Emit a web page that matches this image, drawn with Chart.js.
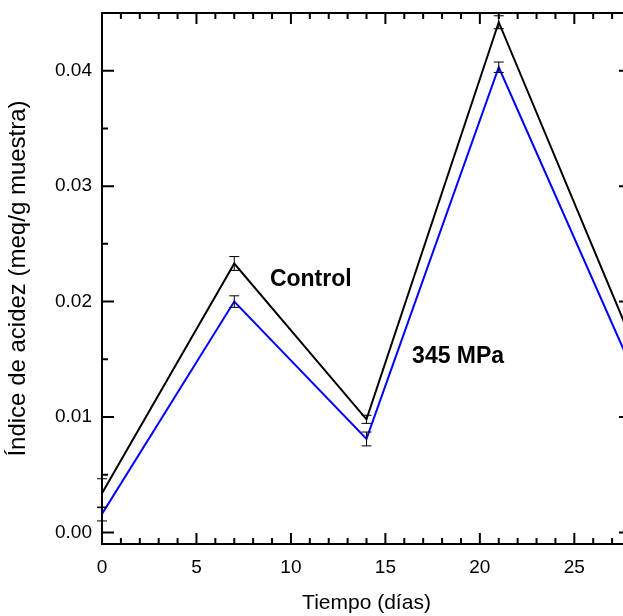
<!DOCTYPE html>
<html>
<head>
<meta charset="utf-8">
<script src="https://cdn.jsdelivr.net/npm/chart.js@4.4.1/dist/chart.umd.min.js"></script>
<style>
html, body { margin: 0; padding: 0; overflow: hidden; background: #fff; }
</style>
</head>
<body>
<canvas id="acidChart" width="640" height="616"></canvas>
<script>
const days = [0, 7, 14, 21, 28];
const controlValues = [0.0034, 0.0233, 0.0098, 0.0442, 0.0168];
const controlErrors = [0.00125, 0.0006, 0.00035, 0.00056, 0.0006];
const mpaValues = [0.0016, 0.0200, 0.0081, 0.0403, 0.0144];
const mpaErrors = [0.0006, 0.0005, 0.0006, 0.00045, 0.0005];
const xTicks = [0, 5, 10, 15, 20, 25];
const yTicks = [0.00, 0.01, 0.02, 0.03, 0.04];

const FONT = "'Liberation Sans', Arial, sans-serif";

// Error bars with small caps
const errorBars = {
    id: 'errorBars',
    afterDatasetsDraw(chart) {
        const { ctx, scales: { x, y } } = chart;
        ctx.save();
        ctx.strokeStyle = '#000';
        ctx.lineWidth = 1;
        chart.data.datasets.forEach(ds => {
            ds.data.forEach((p, i) => {
                const px = x.getPixelForValue(p.x);
                const top = y.getPixelForValue(p.y + ds.errors[i]);
                const bot = y.getPixelForValue(p.y - ds.errors[i]);
                ctx.beginPath();
                ctx.moveTo(px, top); ctx.lineTo(px, bot);
                ctx.moveTo(px - 5, top); ctx.lineTo(px + 5, top);
                ctx.moveTo(px - 5, bot); ctx.lineTo(px + 5, bot);
                ctx.stroke();
            });
        });
        ctx.restore();
    }
};

// Box frame with inward ticks on all four sides
const frameTicks = {
    id: 'frameTicks',
    afterDraw(chart) {
        const { ctx, chartArea: a, scales: { x, y } } = chart;
        ctx.save();
        ctx.strokeStyle = '#000';
        ctx.lineWidth = 2;
        ctx.beginPath();
        ctx.moveTo(a.left, a.top); ctx.lineTo(a.right, a.top);
        ctx.moveTo(a.right, a.top); ctx.lineTo(a.right, a.bottom);
        for (let d = 1; d < 28; d++) {
            const px = x.getPixelForValue(d);
            const len = d % 5 === 0 ? 11 : 6;
            ctx.moveTo(px, a.bottom); ctx.lineTo(px, a.bottom - len);
            ctx.moveTo(px, a.top); ctx.lineTo(px, a.top + len);
        }
        for (let i = 0; i <= 8; i++) {
            const py = y.getPixelForValue(i * 0.005);
            const len = i % 2 === 0 ? 12 : 6;
            ctx.moveTo(a.left, py); ctx.lineTo(a.left + len, py);
            ctx.moveTo(a.right, py); ctx.lineTo(a.right - len, py);
        }
        ctx.stroke();

        // series labels
        ctx.fillStyle = '#000';
        ctx.font = 'bold 23px ' + FONT;
        ctx.textAlign = 'center';
        ctx.textBaseline = 'middle';
        ctx.fillText('Control', x.getPixelForValue(11.05), y.getPixelForValue(0.0219));
        ctx.fillText('345 MPa', x.getPixelForValue(18.85), y.getPixelForValue(0.0152));
        ctx.restore();
    }
};

const ctx = document.getElementById('acidChart').getContext('2d');
new Chart(ctx, {
    type: 'line',
    data: {
        datasets: [
            {
                label: 'Control',
                data: days.map((d, i) => ({ x: d, y: controlValues[i] })),
                errors: controlErrors,
                borderColor: '#000000',
                borderWidth: 2,
                pointRadius: 0,
                tension: 0
            },
            {
                label: '345 MPa',
                data: days.map((d, i) => ({ x: d, y: mpaValues[i] })),
                errors: mpaErrors,
                borderColor: '#0000ff',
                borderWidth: 2,
                pointRadius: 0,
                tension: 0
            }
        ]
    },
    options: {
        responsive: false,
        animation: false,
        layout: { padding: { top: 13, right: 9, left: 0, bottom: 0 } },
        plugins: {
            legend: { display: false },
            tooltip: { enabled: false }
        },
        scales: {
            x: {
                type: 'linear',
                min: 0,
                max: 28,
                grid: { display: false, drawTicks: false },
                border: { display: true, color: '#000', width: 2 },
                afterBuildTicks: s => { s.ticks = xTicks.map(v => ({ value: v })); },
                afterFit: s => { s.height = 72; s.paddingLeft = 0; s.paddingRight = 0; },
                ticks: {
                    color: '#000',
                    padding: 12,
                    font: { family: FONT, size: 19 }
                },
                title: {
                    display: true,
                    text: 'Tiempo (días)',
                    color: '#000',
                    padding: { top: 0, bottom: 0 },
                    font: { family: FONT, size: 21 }
                }
            },
            y: {
                type: 'linear',
                min: -0.001,
                max: 0.045,
                grid: { display: false, drawTicks: false },
                border: { display: true, color: '#000', width: 2 },
                afterBuildTicks: s => { s.ticks = yTicks.map(v => ({ value: v })); },
                afterFit: s => { s.width = 102; s.paddingTop = 0; s.paddingBottom = 0; },
                ticks: {
                    color: '#000',
                    padding: 10,
                    font: { family: FONT, size: 19 },
                    callback: v => v.toFixed(2)
                },
                title: {
                    display: true,
                    text: 'Índice de acidez (meq/g muestra)',
                    color: '#000',
                    padding: { top: 4, bottom: 0 },
                    font: { family: FONT, size: 24 }
                }
            }
        }
    },
    plugins: [errorBars, frameTicks]
});
</script>
</body>
</html>
